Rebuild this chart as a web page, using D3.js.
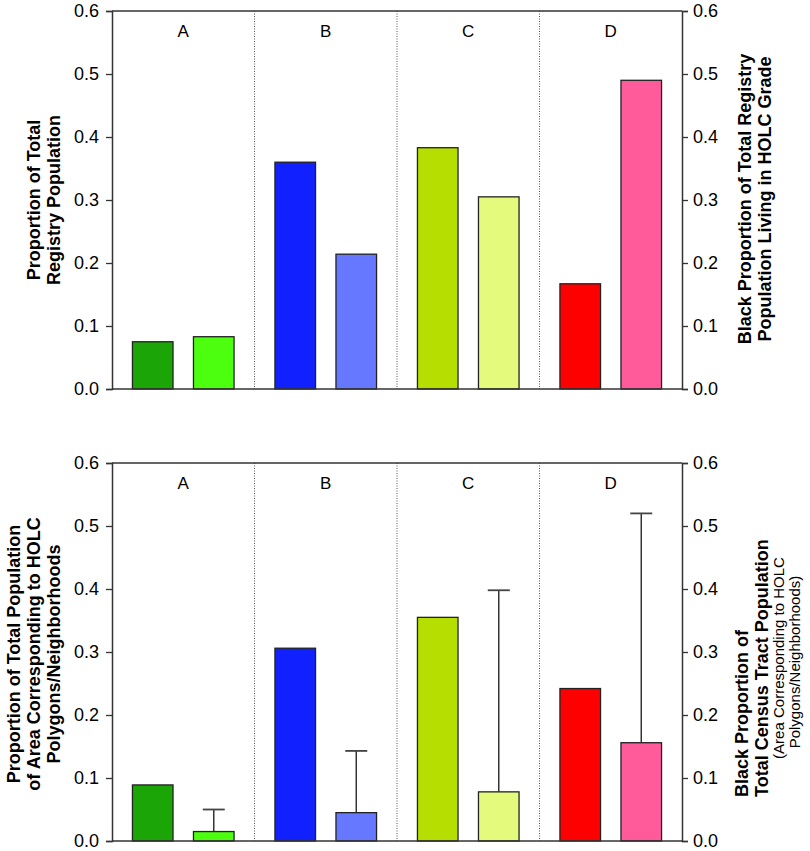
<!DOCTYPE html>
<html><head><meta charset="utf-8">
<script src="https://cdn.jsdelivr.net/npm/d3@7"></script>
<style>
body{margin:0;background:#fff;}
svg text{font-family:"Liberation Sans",Arial,Helvetica,sans-serif;}
</style></head>
<body><div id="chart"></div>
<script>
const grades = ["A","B","C","D"];
const seriesKeys = ["total","black"];
const colorsTotal = ["#1ba506","#1020ff","#b6de00","#ff0000"];
const colorsBlack = ["#4bff0e","#6678ff","#e3fa7d","#ff5b9b"];
// Top panel: registry population
const topTotal = [0.075,0.360,0.383,0.167];
const topBlack = [0.083,0.214,0.305,0.490];
// Bottom panel: census tract population
const botTotal = [0.089,0.306,0.355,0.242];
const botBlack = [0.015,0.045,0.078,0.156];
const botBlackErr = [0.050,0.143,0.398,0.520];
const yTicks = [0,0.1,0.2,0.3,0.4,0.5,0.6];

const W=810,H=851;
const svg=d3.select("#chart").append("svg").attr("width",W).attr("height",H);

const x0=112,x1=682;
const gx=d3.scaleBand().domain(grades).range([x0,x1]).padding(0);
const sx=d3.scaleBand().domain(seriesKeys).range([0,gx.bandwidth()]).padding(0.335);

function panel(yTop,yBot,totals,blacks,errs){
  const y=d3.scaleLinear().domain([0,0.6]).range([yBot,yTop]);
  const g=svg.append("g");
  grades.slice(1).forEach(gr=>{
    g.append("line").attr("x1",gx(gr)).attr("x2",gx(gr)).attr("y1",yTop).attr("y2",yBot)
     .attr("stroke","#555").attr("stroke-width",1).attr("stroke-dasharray","1,1.5");
  });
  grades.forEach(gr=>{
    g.append("text").attr("x",gx(gr)+gx.bandwidth()/2).attr("y",y(0.6)+26)
     .attr("text-anchor","middle").attr("font-size",17).attr("fill","#000").text(gr);
  });
  if(errs){
    grades.forEach((gr,i)=>{
      const cx=gx(gr)+sx("black")+sx.bandwidth()/2;
      g.append("line").attr("x1",cx).attr("x2",cx).attr("y1",y(blacks[i])).attr("y2",y(errs[i]))
       .attr("stroke","#333").attr("stroke-width",1.5);
      g.append("line").attr("x1",cx-11).attr("x2",cx+11).attr("y1",y(errs[i])).attr("y2",y(errs[i]))
       .attr("stroke","#444").attr("stroke-width",1.8);
    });
  }
  grades.forEach((gr,i)=>{
    g.append("rect").attr("x",gx(gr)+sx("total")).attr("width",sx.bandwidth())
     .attr("y",y(totals[i])).attr("height",y(0)-y(totals[i]))
     .attr("fill",colorsTotal[i]).attr("stroke","#222").attr("stroke-width",1.3);
    g.append("rect").attr("x",gx(gr)+sx("black")).attr("width",sx.bandwidth())
     .attr("y",y(blacks[i])).attr("height",y(0)-y(blacks[i]))
     .attr("fill",colorsBlack[i]).attr("stroke","#222").attr("stroke-width",1.3);
  });
  g.append("line").attr("x1",x0).attr("x2",x1).attr("y1",yTop).attr("y2",yTop).attr("stroke","#333").attr("stroke-width",1.5);
  g.append("line").attr("x1",x0).attr("x2",x1).attr("y1",yBot).attr("y2",yBot).attr("stroke","#333").attr("stroke-width",1.5);
  const fmt=d3.format(".1f");
  const la=svg.append("g").attr("transform",`translate(${x0},0)`)
    .call(d3.axisLeft(y).tickValues(yTicks).tickFormat(fmt).tickSize(6).tickPadding(7));
  const ra=svg.append("g").attr("transform",`translate(${x1},0)`)
    .call(d3.axisRight(y).tickValues(yTicks).tickFormat(fmt).tickSize(6).tickPadding(5));
  [la,ra].forEach(a=>{
    a.select(".domain").attr("stroke","#333").attr("stroke-width",1.5);
    a.selectAll(".tick line").attr("stroke","#333").attr("stroke-width",1.3);
    a.selectAll(".tick text").attr("font-size",18).attr("fill","#000")
      .attr("font-family","'Liberation Sans',Arial,sans-serif");
  });
  return y;
}

panel(11,389,topTotal,topBlack,null);
panel(463,841,botTotal,botBlack,botBlackErr);

function vlabel(x,y,txt,size,weight,anchor){
  svg.append("text").attr("transform",`translate(${x},${y}) rotate(-90)`)
    .attr("text-anchor",anchor||"middle").attr("dominant-baseline","central")
    .attr("font-size",size).attr("font-weight",weight).attr("fill","#000").text(txt);
}
// top left
vlabel(34,200,"Proportion of Total",18,"bold");
vlabel(54,200,"Registry Population",18,"bold");
// top right
vlabel(745,199,"Black Proportion of Total Registry",18,"bold");
vlabel(765,199,"Population Living in HOLC Grade",18,"bold");
// bottom left
vlabel(14,654,"Proportion of Total Population",18,"bold");
vlabel(34,654,"of Area Corresponding to HOLC",18,"bold");
vlabel(54,654,"Polygons/Neighborhoods",18,"bold");
// bottom right
vlabel(742,797,"Black Proportion of",18,"bold","start");
vlabel(762,797,"Total Census Tract Population",18,"bold","start");
vlabel(778,658,"(Area Corresponding to HOLC",15,"normal");
vlabel(794,662,"Polygons/Neighborhoods)",15,"normal");
</script></body></html>
